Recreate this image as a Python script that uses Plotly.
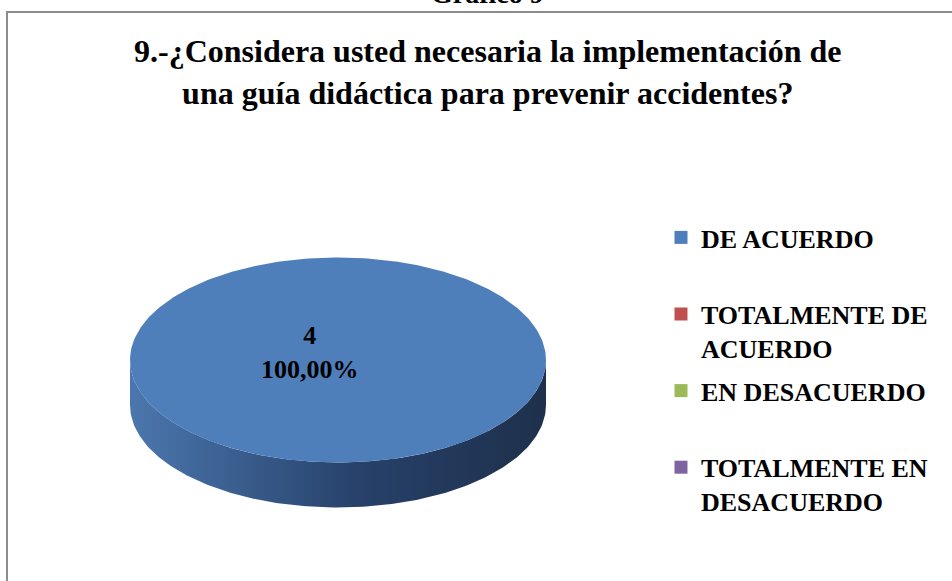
import numpy as np
import plotly.graph_objects as go

# --- DATA ---
categories = ["DE ACUERDO", "TOTALMENTE DE ACUERDO", "EN DESACUERDO", "TOTALMENTE EN DESACUERDO"]
legend_labels = ["DE ACUERDO<br> ", "TOTALMENTE DE<br>ACUERDO", "EN DESACUERDO<br> ", "TOTALMENTE EN<br>DESACUERDO"]
counts = [4, 0, 0, 0]
title_text = "9.-¿Considera usted necesaria la implementación de<br>una guía didáctica para prevenir accidentes?"
top_colors = ["#4f7fba", "#c0504d", "#9bbb59", "#8064a2"]
side_scales = [
    [[0, "#4b77ae"], [0.55, "#27416a"], [1, "#1e304b"]],
    [[0, "#a94542"], [1, "#5e2322"]],
    [[0, "#87a44d"], [1, "#4c5e2a"]],
    [[0, "#6f5890"], [1, "#3d2f52"]],
]

FONT = "Times New Roman, Liberation Serif, serif"
W, H = 952, 581
CX, CY, RX, RY, DEPTH = 338, 360, 208, 102.5, 45


def ellipse_pt(theta):
    # theta measured clockwise from 12 o'clock (Excel pie start)
    return CX + RX * np.sin(theta), CY - RY * np.cos(theta)


fig = go.Figure()

total = sum(counts)
start = 0.0
slices = []
for cat, v in zip(categories, counts):
    frac = v / total
    a0, a1 = start * 2 * np.pi, (start + frac) * 2 * np.pi
    start += frac
    slices.append((a0, a1, frac))

# side walls first (only the front half is visible)
for i, (a0, a1, frac) in enumerate(slices):
    if frac <= 0:
        continue
    s0, s1 = max(a0, np.pi / 2), min(a1, 3 * np.pi / 2)
    if s1 <= s0:
        continue
    t = np.linspace(s0, s1, 200)
    x, y = ellipse_pt(t)
    xs = np.concatenate([x, x[::-1]])
    ys = np.concatenate([y, (y + DEPTH)[::-1]])
    fig.add_trace(go.Scatter(
        x=xs, y=ys, mode="lines", fill="toself", line=dict(width=0),
        fillgradient=dict(type="horizontal", colorscale=side_scales[i]),
        showlegend=False, hoverinfo="skip"
    ))

# top faces
for i, (a0, a1, frac) in enumerate(slices):
    if frac <= 0:
        continue
    t = np.linspace(a0, a1, 400)
    x, y = ellipse_pt(t)
    if frac < 1:
        x = np.concatenate([[CX], x, [CX]])
        y = np.concatenate([[CY], y, [CY]])
    fig.add_trace(go.Scatter(
        x=x, y=y, mode="lines", fill="toself", line=dict(width=0),
        fillcolor=top_colors[i], showlegend=False,
        hovertemplate=f"{categories[i]}: {counts[i]}<extra></extra>"
    ))

# legend entries (one group each so the gap applies between every item)
for i, lab in enumerate(legend_labels):
    fig.add_trace(go.Scatter(
        x=[None], y=[None], mode="markers", name=lab, legendgroup=f"g{i}",
        marker=dict(symbol="square", size=13, color=top_colors[i])
    ))

# data label
for i, (a0, a1, frac) in enumerate(slices):
    if frac <= 0:
        continue
    txt = f"<b>{counts[i]}<br>{frac * 100:.2f}%</b>".replace(".", ",")
    fig.add_annotation(x=CX - 28, y=CY - 8, xref="x", yref="y", text=txt, showarrow=False,
                       font=dict(family=FONT, size=26, color="black"))

# title and the cut-off caption above the frame
fig.add_annotation(x=488 / W, y=1 - 72 / H, xref="paper", yref="paper", yanchor="middle",
                   text="<b>" + title_text + "</b>",
                   showarrow=False, font=dict(family=FONT, size=32, color="black"))
fig.add_annotation(x=488 / W, y=1 + 6 / H, xref="paper", yref="paper", yanchor="middle",
                   text="<b>Gráfico 9</b>",
                   showarrow=False, font=dict(family=FONT, size=28, color="black"))

# chart frame
fig.add_shape(type="rect", xref="paper", yref="paper", x0=7 / W, y0=-0.02, x1=1.02, y1=1 - 12 / H,
              line=dict(color="#8c8c8c", width=2))

fig.update_layout(
    width=W, height=H,
    margin=dict(l=0, r=0, t=0, b=0),
    paper_bgcolor="white", plot_bgcolor="white",
    font=dict(family=FONT, size=26, color="black"),
    xaxis=dict(range=[0, W], visible=False, fixedrange=True),
    yaxis=dict(range=[H, 0], visible=False, fixedrange=True),
    legend=dict(x=661 / W, y=1 - 214 / H, xanchor="left", yanchor="top", valign="top",
                font=dict(family=FONT, size=26, color="black", weight="bold"),
                bgcolor="rgba(0,0,0,0)", tracegroupgap=6, itemwidth=30),
)

fig.write_html("out.html", config={"displayModeBar": False},
               post_script="document.body.style.margin='0';")
